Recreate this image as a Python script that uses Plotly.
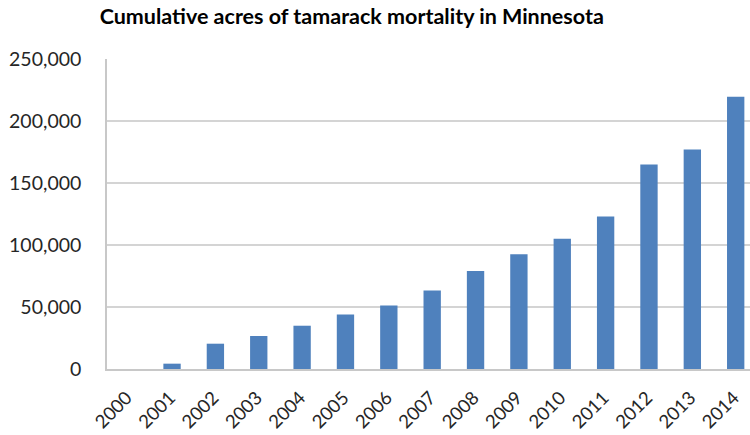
import plotly.graph_objects as go

years = [str(y) for y in range(2000, 2015)]
acres = [0, 4300, 20400, 26600, 34900, 43900, 51200, 63300, 79100, 92600,
         105000, 123000, 165000, 177000, 219500]
y_ticks = [0, 50000, 100000, 150000, 200000, 250000]
y_labels = ["0", "50,000", "100,000", "150,000", "200,000", "250,000"]

fig = go.Figure(go.Bar(
    x=years, y=acres,
    marker=dict(color="#4f81bd", line=dict(width=0)),
    width=0.4,
))

fig.update_layout(
    width=750, height=435,
    margin=dict(l=107, r=0, t=59, b=66),
    paper_bgcolor="white", plot_bgcolor="white",
    title=dict(text="<b>Cumulative acres of tamarack mortality in Minnesota</b>",
               x=0.469, xanchor="center", y=0.961, yanchor="middle",
               font=dict(family="Lato", size=21.5, color="#000000")),
    showlegend=False,
    font=dict(family="Lato", size=19, color="#262626"),
)
fig.update_xaxes(
    type="category", range=[-0.5, 14.33], automargin=False,
    tickangle=-45, showgrid=False,
    showline=True, linecolor="#c8c8c8", linewidth=1.5,
    ticks="", ticklabelstandoff=9, ticklabelshift=-2,
    tickfont=dict(size=18.5, color="#262626"),
)
fig.update_yaxes(
    range=[0, 250000], tickvals=y_ticks, ticktext=y_labels, automargin=False,
    showgrid=True, gridcolor="#d4d4d4", gridwidth=1.5,
    showline=True, linecolor="#c8c8c8", linewidth=1.5,
    zeroline=False, ticks="", ticklabelstandoff=20,
    tickfont=dict(size=19.5, color="#262626"),
)

fig.write_html("out.html")
